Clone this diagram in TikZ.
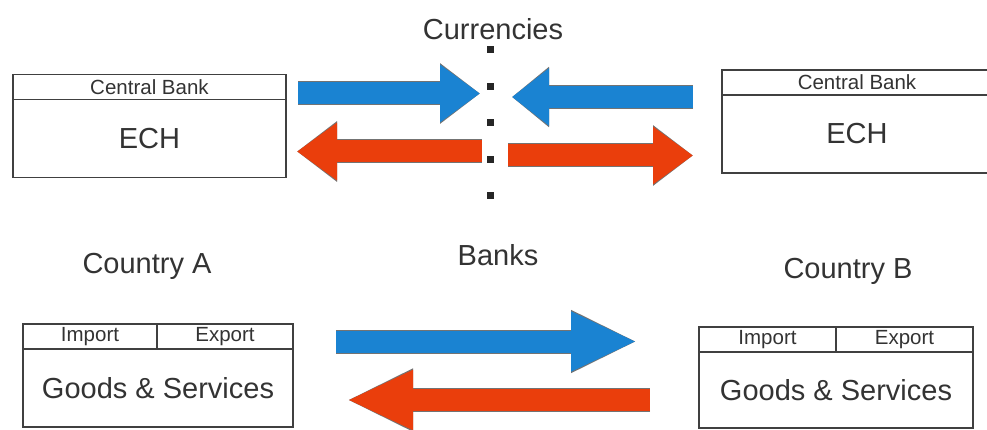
\documentclass[tikz,border=0pt]{standalone}
\usepackage{fontspec}
\setmainfont{Liberation Sans}
\usepackage{xcolor}
\usepackage{tikz}
\usetikzlibrary{positioning}
\usetikzlibrary{arrows.meta}
\definecolor{flowblue}{RGB}{26,131,210}
\definecolor{flowred}{RGB}{234,62,12}
\newcommand{\bigsize}{\fontsize{29}{34}\selectfont}
\newcommand{\smallsize}{\fontsize{20.5}{24}\selectfont}

\begin{document}
\begin{tikzpicture}[
      x=1pt, y=1pt,
      type-header/.style={rectangle, draw=black!75, line width=1.4pt, inner sep=0pt, outer sep=0pt, minimum height=25pt, font=\smallsize, text=black!80},
      type-body/.style={rectangle, draw=black!75, line width=1.4pt, inner sep=0pt, outer sep=0pt, minimum height=78pt, font=\bigsize, text=black!80},
      type-label/.style={font=\bigsize, text=black!80},
      type-dot/.style={rectangle, fill=black!85, minimum size=7pt, inner sep=0pt},
      flow-blue/.style={draw=flowblue, line width=22pt, -{Triangle[length=#1,width=55pt]},
        preaction={draw=black!55, line width=24pt, -{Triangle[length=#1,width=58pt]}}},
      flow-blue/.default=40pt,
      flow-red/.style={draw=flowred, line width=22pt, -{Triangle[length=#1,width=55pt]},
        preaction={draw=black!55, line width=24pt, -{Triangle[length=#1,width=58pt]}}},
      flow-red/.default=40pt
    ]
      \useasboundingbox (0,0) rectangle (987,429);
      % central banks
      \node[type-header, minimum width=273pt] (cbA) at (149.5,342) {Central Bank};
      \node[type-body, minimum width=273pt, below=0pt of cbA] (echA) {ECH};
      \node[type-header, minimum width=270pt] (cbB) at (857,346.5) {Central Bank};
      \node[type-body, minimum width=270pt, below=0pt of cbB] (echB) {ECH};
      % goods and services
      \node[type-header, minimum width=134pt] (impA) at (90,92.5) {Import};
      \node[type-header, minimum width=136pt, right=0pt of impA] (expA) {Export};
      \node[type-body, minimum width=270pt, anchor=north west] (gsA) at (impA.south west) {Goods \& Services};
      \node[type-header, minimum width=137pt] (impB) at (767.5,89.5) {Import};
      \node[type-header, minimum width=137pt, right=0pt of impB] (expB) {Export};
      \node[type-body, minimum width=274pt, minimum height=76pt, anchor=north west] (gsB) at (impB.south west) {Goods \& Services};
      % labels
      \node[type-label] (curr) at (493,400) {Currencies};
      \node[type-label] (ctryA) at (147,163) {Country A};
      \node[type-label] (banks) at (498,174) {Banks};
      \node[type-label] (ctryB) at (848,158) {Country B};
      \foreach \i/\y in {1/379,2/342,3/306,4/269,5/234}
        \node[type-dot] (dot\i) at (490,\y) {};
      % arrow ends
      \coordinate (blueA-s) at (298,335.5);
      \coordinate (blueA-e) at (480,335.5);
      \coordinate (redA-s) at (482,277.5);
      \coordinate (redA-e) at (297,277.5);
      \coordinate (blueB-s) at (693,332);
      \coordinate (blueB-e) at (512,332);
      \coordinate (redB-s) at (508,273.5);
      \coordinate (redB-e) at (693,273.5);
      \coordinate (blueG-s) at (336,87.5);
      \coordinate (blueG-e) at (637,87.5);
      \coordinate (redG-s) at (650,29);
      \coordinate (redG-e) at (347,29);
      \draw[flow-blue] (blueA-s) -- (blueA-e);
      \draw[flow-red] (redA-s) -- (redA-e);
      \draw[flow-blue=37pt] (blueB-s) -- (blueB-e);
      \draw[flow-red] (redB-s) -- (redB-e);
      \draw[flow-blue=66pt] (blueG-s) -- (blueG-e);
      \draw[flow-red=66pt] (redG-s) -- (redG-e);
    \end{tikzpicture}
\end{document}
